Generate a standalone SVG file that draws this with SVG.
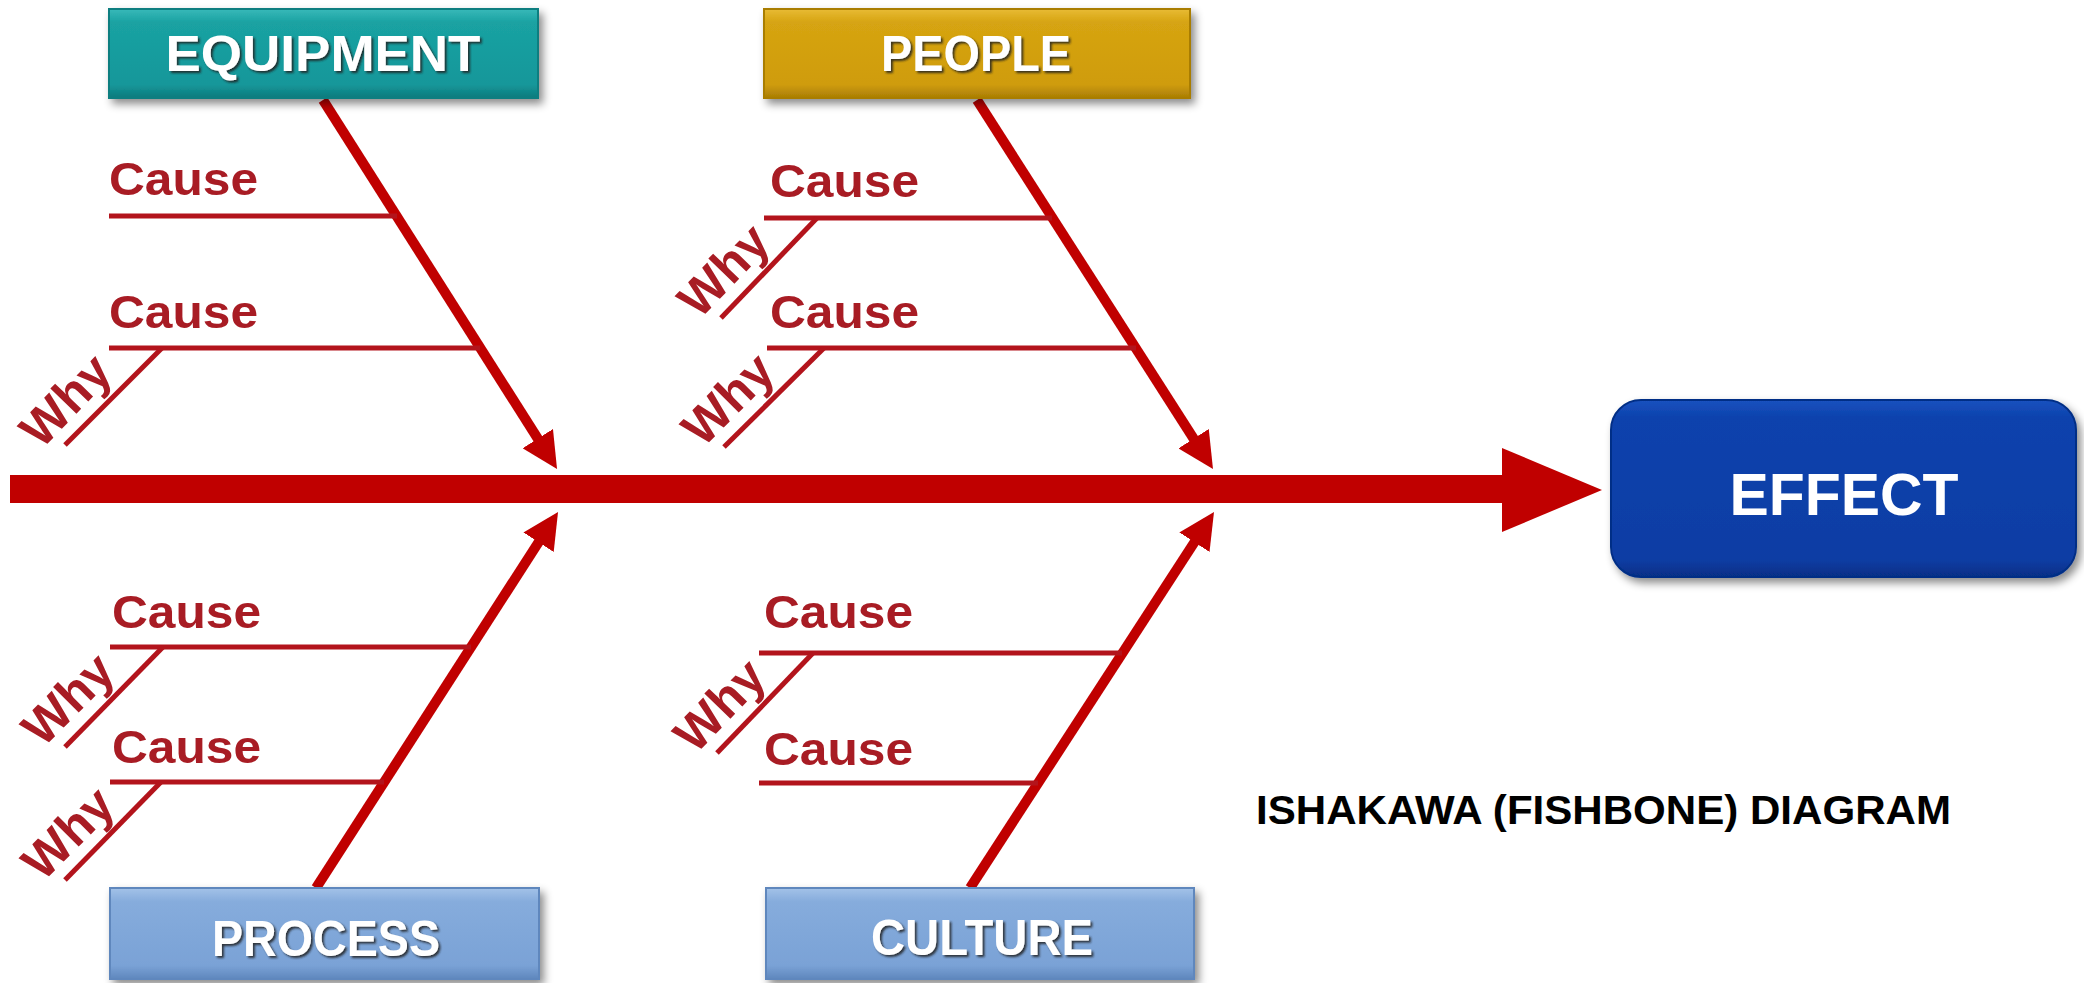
<svg xmlns="http://www.w3.org/2000/svg" width="2084" height="983" viewBox="0 0 2084 983">
  <defs>
    <style>
      .cause { font-family: "Liberation Sans", Arial, sans-serif; font-weight: bold; font-size: 47px; fill: #a81c24; }
      .why { font-family: "Liberation Sans", Arial, sans-serif; font-weight: bold; font-size: 50px; fill: #a81c24; }
      .twig { stroke: #b3141c; stroke-width: 5; fill: none; }
      .bone { stroke: #c00000; stroke-width: 10; fill: none; marker-end: url(#head); }
      .lbl { font-family: "Liberation Sans", Arial, sans-serif; font-weight: bold; font-size: 50px; fill: #ffffff; text-anchor: middle; filter: url(#tshadow); }
      .title { font-family: "Liberation Sans", Arial, sans-serif; font-weight: bold; font-size: 40px; fill: #000000; }
    </style>
    <marker id="head" viewBox="0 0 10 10" refX="5" refY="5" markerWidth="3.6" markerHeight="3.6" orient="auto">
      <path d="M0,0 L10,5 L0,10 z" fill="#c00000"/>
    </marker>
    <linearGradient id="gTeal" x1="0" y1="0" x2="0" y2="1">
      <stop offset="0" stop-color="#39b9b9"/>
      <stop offset="0.15" stop-color="#1aa2a2"/>
      <stop offset="0.85" stop-color="#15979a"/>
      <stop offset="1" stop-color="#0c7a7c"/>
    </linearGradient>
    <linearGradient id="gGold" x1="0" y1="0" x2="0" y2="1">
      <stop offset="0" stop-color="#e8bb35"/>
      <stop offset="0.15" stop-color="#d6a412"/>
      <stop offset="0.85" stop-color="#cf9c0c"/>
      <stop offset="1" stop-color="#a97d05"/>
    </linearGradient>
    <linearGradient id="gBlue" x1="0" y1="0" x2="0" y2="1">
      <stop offset="0" stop-color="#a3c2e8"/>
      <stop offset="0.15" stop-color="#86acdc"/>
      <stop offset="0.85" stop-color="#7aa2d6"/>
      <stop offset="1" stop-color="#5f87bd"/>
    </linearGradient>
    <linearGradient id="gEffect" x1="0" y1="0" x2="0" y2="1">
      <stop offset="0" stop-color="#1b52bf"/>
      <stop offset="0.1" stop-color="#0b42ad"/>
      <stop offset="0.9" stop-color="#0a3da4"/>
      <stop offset="1" stop-color="#062f86"/>
    </linearGradient>
    <filter id="bshadow" x="-10%" y="-10%" width="125%" height="135%">
      <feDropShadow dx="4" dy="5" stdDeviation="4" flood-color="#000" flood-opacity="0.45"/>
    </filter>
    <filter id="tshadow" x="-10%" y="-20%" width="120%" height="150%">
      <feDropShadow dx="2" dy="2" stdDeviation="1" flood-color="#222" flood-opacity="0.85"/>
    </filter>
  </defs>

  <rect x="0" y="0" width="2084" height="983" fill="#ffffff"/>

  <g id="connectors">
    <rect x="10" y="475" width="1495" height="28" fill="#c00000"/>
    <polygon points="1502,448 1602,490 1502,532" fill="#c00000"/>
    <line class="bone" x1="323" y1="100" x2="547.4" y2="453.8"/>
    <line class="bone" x1="977" y1="100" x2="1203.3" y2="453.8"/>
    <line class="bone" x1="316" y1="888" x2="548.3" y2="527.1"/>
    <line class="bone" x1="970" y1="888" x2="1204.2" y2="527.1"/>
  </g>

  <g id="equipment-causes">
    <text class="cause" x="109" y="195" textLength="149" lengthAdjust="spacingAndGlyphs">Cause</text>
    <line class="twig" x1="109" y1="216" x2="397" y2="216"/>
    <text class="cause" x="109" y="328" textLength="149" lengthAdjust="spacingAndGlyphs">Cause</text>
    <line class="twig" x1="109" y1="348" x2="480" y2="348"/>
    <line class="twig" x1="162" y1="348" x2="65" y2="445"/>
    <text class="why" transform="translate(88,422) rotate(-46)" x="0" y="-14" text-anchor="middle">Why</text>
  </g>

  <g id="people-causes">
    <text class="cause" x="770" y="197" textLength="149" lengthAdjust="spacingAndGlyphs">Cause</text>
    <line class="twig" x1="764" y1="218" x2="1052" y2="218"/>
    <line class="twig" x1="817" y1="218" x2="721" y2="318"/>
    <text class="why" transform="translate(746,292) rotate(-46)" x="0" y="-14" text-anchor="middle">Why</text>
    <text class="cause" x="770" y="328" textLength="149" lengthAdjust="spacingAndGlyphs">Cause</text>
    <line class="twig" x1="767" y1="348" x2="1136" y2="348"/>
    <line class="twig" x1="824" y1="348" x2="724" y2="447"/>
    <text class="why" transform="translate(750,421) rotate(-45)" x="0" y="-14" text-anchor="middle">Why</text>
  </g>

  <g id="process-causes">
    <text class="cause" x="112" y="628" textLength="149" lengthAdjust="spacingAndGlyphs">Cause</text>
    <line class="twig" x1="110" y1="647" x2="471" y2="647"/>
    <line class="twig" x1="163" y1="647" x2="65" y2="747"/>
    <text class="why" transform="translate(90,721) rotate(-45)" x="0" y="-14" text-anchor="middle">Why</text>
    <text class="cause" x="112" y="763" textLength="149" lengthAdjust="spacingAndGlyphs">Cause</text>
    <line class="twig" x1="110" y1="782" x2="384" y2="782"/>
    <line class="twig" x1="161" y1="782" x2="65" y2="880"/>
    <text class="why" transform="translate(90,855) rotate(-45)" x="0" y="-14" text-anchor="middle">Why</text>
  </g>

  <g id="culture-causes">
    <text class="cause" x="764" y="628" textLength="149" lengthAdjust="spacingAndGlyphs">Cause</text>
    <line class="twig" x1="759" y1="653" x2="1122" y2="653"/>
    <line class="twig" x1="813" y1="653" x2="717" y2="753"/>
    <text class="why" transform="translate(742,727) rotate(-46)" x="0" y="-14" text-anchor="middle">Why</text>
    <text class="cause" x="764" y="765" textLength="149" lengthAdjust="spacingAndGlyphs">Cause</text>
    <line class="twig" x1="759" y1="783" x2="1038" y2="783"/>
  </g>

  <g id="equipment">
    <rect x="109" y="9" width="429" height="89" fill="url(#gTeal)" stroke="#0e7e80" stroke-width="2" filter="url(#bshadow)"/>
    <text class="lbl" x="323" y="71" textLength="315" lengthAdjust="spacingAndGlyphs">EQUIPMENT</text>
  </g>

  <g id="people">
    <rect x="764" y="9" width="426" height="89" fill="url(#gGold)" stroke="#a97d05" stroke-width="2" filter="url(#bshadow)"/>
    <text class="lbl" x="976" y="71" textLength="190" lengthAdjust="spacingAndGlyphs">PEOPLE</text>
  </g>

  <g id="process">
    <rect x="110" y="888" width="429" height="91" fill="url(#gBlue)" stroke="#5f87bd" stroke-width="2" filter="url(#bshadow)"/>
    <text class="lbl" x="326" y="956" textLength="228" lengthAdjust="spacingAndGlyphs">PROCESS</text>
  </g>

  <g id="culture">
    <rect x="766" y="888" width="428" height="91" fill="url(#gBlue)" stroke="#5f87bd" stroke-width="2" filter="url(#bshadow)"/>
    <text class="lbl" x="982" y="955" textLength="222" lengthAdjust="spacingAndGlyphs">CULTURE</text>
  </g>

  <g id="effect">
    <rect x="1611" y="400" width="465" height="177" rx="30" ry="30" fill="url(#gEffect)" stroke="#062f86" stroke-width="2" filter="url(#bshadow)"/>
    <text x="1844" y="515" text-anchor="middle" textLength="229" lengthAdjust="spacingAndGlyphs" style="font-family: 'Liberation Sans', Arial, sans-serif; font-weight: bold; font-size: 60px; fill: #ffffff;">EFFECT</text>
  </g>

  <g id="title">
    <text class="title" x="1256" y="824" textLength="695" lengthAdjust="spacingAndGlyphs">ISHAKAWA (FISHBONE) DIAGRAM</text>
  </g>
</svg>
